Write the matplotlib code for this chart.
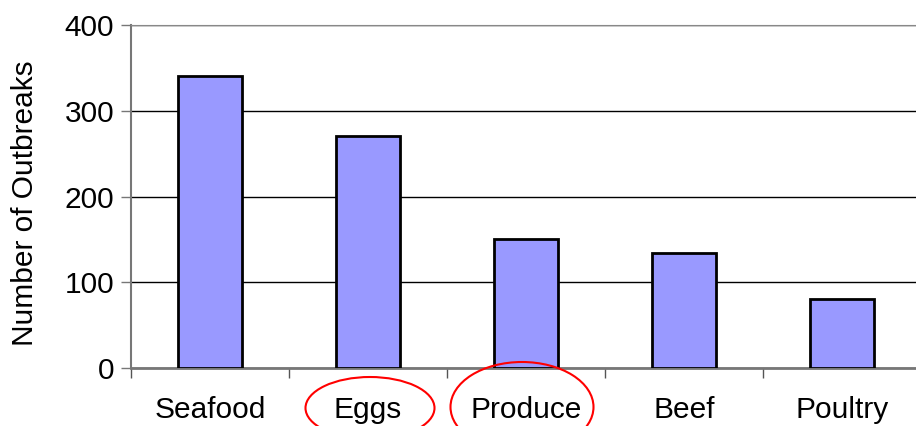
import numpy as np
import matplotlib
matplotlib.use('Agg')
import matplotlib.pyplot as plt
from matplotlib.patches import Ellipse

plt.rcParams['font.family'] = ['Liberation Sans', 'DejaVu Sans']

categories = ['Seafood', 'Eggs', 'Produce', 'Beef', 'Poultry']
outbreaks = [340, 270, 150, 134, 80]
yticks = [0, 100, 200, 300, 400]

fig = plt.figure(figsize=(9.16, 4.26), dpi=100)
ax = fig.add_axes([131 / 916, 1 - 368 / 426, 790 / 916, 343 / 426])

x = np.arange(len(categories))
ax.bar(x, outbreaks, width=0.41, color='#9999ff', edgecolor='black', linewidth=2, zorder=3)

ax.set_xlim(-0.5, len(categories) - 0.5)
ax.set_ylim(0, 400)
ax.set_yticks(yticks)
ax.yaxis.grid(True, color='black', linewidth=1, zorder=0)

# category labels centred, tick marks between categories
ax.set_xticks(x)
ax.set_xticklabels(categories, fontsize=21.5)
ax.set_xticks(np.arange(len(categories) + 1) - 0.5, minor=True)
ax.tick_params(axis='x', which='major', length=0, pad=20)
ax.tick_params(axis='x', which='minor', length=7, color='#555555', width=1)
ax.tick_params(axis='y', length=7, color='#777777', width=1, labelsize=21.5, pad=5)

ax.set_ylabel('Number of Outbreaks', fontsize=21.5)
ax.yaxis.set_label_coords(-0.117, 0.48)

ax.spines['right'].set_visible(False)
ax.spines['top'].set_color('#888888')
ax.spines['left'].set_color('#777777')
ax.spines['left'].set_linewidth(1.5)
ax.spines['bottom'].set_color('#777777')
ax.spines['bottom'].set_linewidth(2)

# red circles around Eggs and Produce
W, H = 916, 426
for cx, cy, w, h in [(370, 408, 129, 62), (522, 407, 143, 90)]:
    e = Ellipse((cx / W, 1 - cy / H), w / W, h / H, transform=fig.transFigure,
                fill=False, edgecolor='red', linewidth=1.5, clip_on=False)
    fig.patches.append(e)

fig.savefig('out.png', dpi=100)
